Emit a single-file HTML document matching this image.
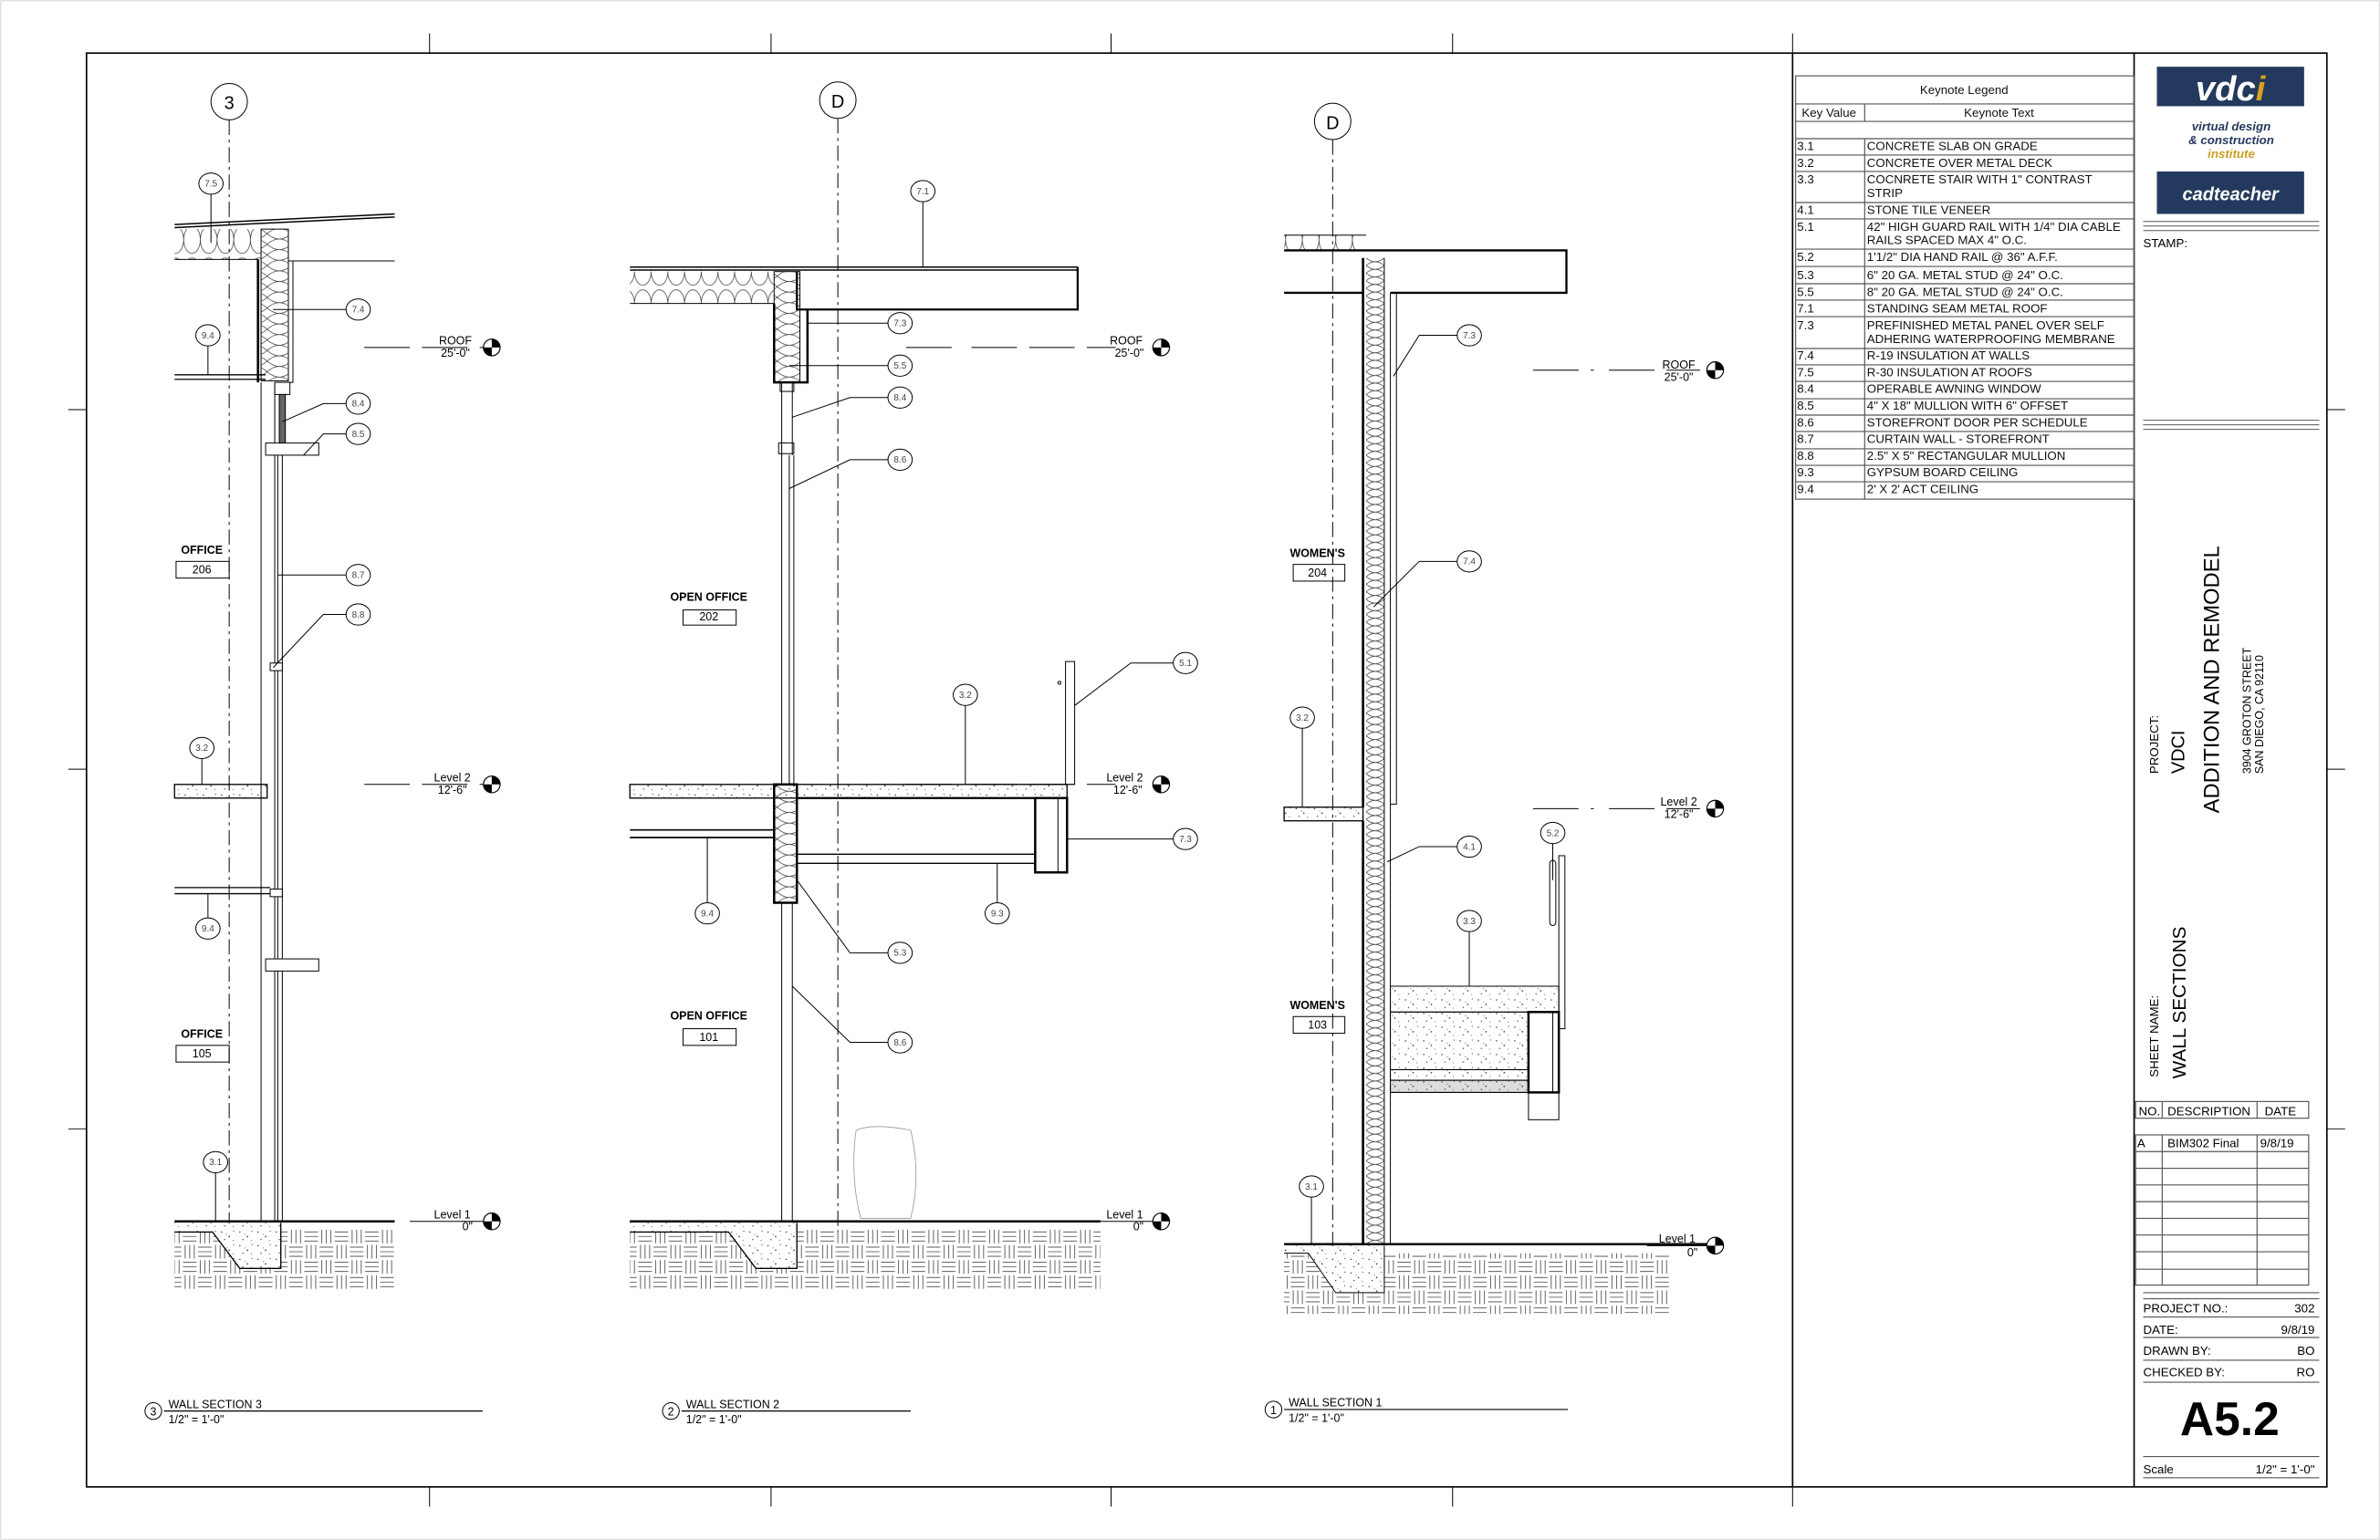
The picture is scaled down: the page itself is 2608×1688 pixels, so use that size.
<!DOCTYPE html>
<html><head><meta charset="utf-8"><style>
html,body{margin:0;padding:0;background:#fff;}
svg{display:block;}
text{font-family:"Liberation Sans",sans-serif;}
</style></head><body>
<svg width="2608" height="1688" viewBox="0 0 1568 1015" preserveAspectRatio="none" xmlns="http://www.w3.org/2000/svg">
<defs>
<pattern id="earth" width="20" height="20" patternUnits="userSpaceOnUse">
<g stroke="#444" stroke-width="0.5">
<path d="M2 0.5V9.5M5 0.5V9.5M8 0.5V9.5"/>
<path d="M10.5 2H19.5M10.5 5H19.5M10.5 8H19.5"/>
<path d="M0.5 12H9.5M0.5 15H9.5M0.5 18H9.5"/>
<path d="M12 10.5V19.5M15 10.5V19.5M18 10.5V19.5"/>
</g></pattern>
<pattern id="conc" width="12" height="9" patternUnits="userSpaceOnUse">
<g fill="#333"><circle cx="2" cy="2" r="0.45"/><circle cx="7" cy="5" r="0.5"/><circle cx="10" cy="1.5" r="0.35"/><circle cx="4" cy="7" r="0.4"/><circle cx="9.5" cy="7.5" r="0.3"/><circle cx="5.5" cy="3.5" r="0.3"/></g></pattern>
<pattern id="ins" width="16" height="7" patternUnits="userSpaceOnUse">
<path d="M0 0Q8 7 16 0M0 7Q8 0 16 7" fill="none" stroke="#333" stroke-width="0.4"/></pattern>
<pattern id="ins2" width="12" height="5" patternUnits="userSpaceOnUse">
<path d="M0 0Q6 5 12 0M0 5Q6 0 12 5" fill="none" stroke="#333" stroke-width="0.4"/></pattern>
<pattern id="insh" width="11" height="21" patternUnits="userSpaceOnUse">
<ellipse cx="5.5" cy="11" rx="5.5" ry="9" fill="none" stroke="#333" stroke-width="0.45"/></pattern>
<g id="lvl"><circle r="5.5" fill="#fff" stroke="#000" stroke-width="0.7"/><path d="M0 0V-5.5A5.5 5.5 0 0 1 5.5 0Z M0 0V5.5A5.5 5.5 0 0 1 -5.5 0Z" fill="#000"/></g>
</defs>

<rect x="0.5" y="0.5" width="1567" height="1014" fill="none" stroke="#ccc" stroke-width="0.5"/>
<rect x="57" y="35" width="1476" height="945" fill="none" stroke="#000" stroke-width="1"/>
<line x1="1181" y1="35" x2="1181" y2="980" stroke="#000" stroke-width="1"/>
<line x1="1406" y1="35" x2="1406" y2="980" stroke="#000" stroke-width="1"/>
<g stroke="#000" stroke-width="0.6">
<path d="M283 22V35M508 22V35M732 22V35M957 22V35M283 980V993M508 980V993M732 980V993M957 980V993M45 270H57M45 507H57M45 744H57M1533 270H1545M1533 507H1545M1533 744H1545M1181 22V35M1181 980V993"/>
</g>

<g stroke="#555" stroke-width="0.7" fill="none">
<rect x="1183" y="50" width="223" height="279"/>
<path d="M1183 68.5H1406M1183 80H1406M1183 91.4H1406M1183 102.2H1406M1183 113H1406M1183 133.5H1406M1183 144.3H1406M1183 164.2H1406M1183 175.6H1406M1183 187H1406M1183 197.8H1406M1183 208.7H1406M1183 229.7H1406M1183 240.5H1406M1183 251.4H1406M1183 262.8H1406M1183 273.6H1406M1183 284.4H1406M1183 295.8H1406M1183 306.7H1406M1183 317.5H1406"/>
<path d="M1228.5 68.5V80M1228.5 91.4V329"/>
</g>
<g font-size="8" fill="#111">
<text x="1294" y="62" text-anchor="middle">Keynote Legend</text>
<text x="1205" y="77" text-anchor="middle">Key Value</text>
<text x="1317" y="77" text-anchor="middle">Keynote Text</text>
<g font-size="8">
<text x="1184" y="99">3.1</text><text x="1230" y="99">CONCRETE SLAB ON GRADE</text>
<text x="1184" y="110">3.2</text><text x="1230" y="110">CONCRETE OVER METAL DECK</text>
<text x="1184" y="121">3.3</text><text x="1230" y="121">COCNRETE STAIR WITH 1" CONTRAST</text><text x="1230" y="130">STRIP</text>
<text x="1184" y="141">4.1</text><text x="1230" y="141">STONE TILE VENEER</text>
<text x="1184" y="152">5.1</text><text x="1230" y="152">42" HIGH GUARD RAIL WITH 1/4" DIA CABLE</text><text x="1230" y="161">RAILS SPACED MAX 4" O.C.</text>
<text x="1184" y="172">5.2</text><text x="1230" y="172">1'1/2" DIA HAND RAIL @ 36" A.F.F.</text>
<text x="1184" y="184">5.3</text><text x="1230" y="184">6" 20 GA. METAL STUD @ 24" O.C.</text>
<text x="1184" y="195">5.5</text><text x="1230" y="195">8" 20 GA. METAL STUD @ 24" O.C.</text>
<text x="1184" y="206">7.1</text><text x="1230" y="206">STANDING SEAM METAL ROOF</text>
<text x="1184" y="217">7.3</text><text x="1230" y="217">PREFINISHED METAL PANEL OVER SELF</text><text x="1230" y="226">ADHERING WATERPROOFING MEMBRANE</text>
<text x="1184" y="237">7.4</text><text x="1230" y="237">R-19 INSULATION AT WALLS</text>
<text x="1184" y="248">7.5</text><text x="1230" y="248">R-30 INSULATION AT ROOFS</text>
<text x="1184" y="259">8.4</text><text x="1230" y="259">OPERABLE AWNING WINDOW</text>
<text x="1184" y="270">8.5</text><text x="1230" y="270">4" X 18" MULLION WITH 6" OFFSET</text>
<text x="1184" y="281">8.6</text><text x="1230" y="281">STOREFRONT DOOR PER SCHEDULE</text>
<text x="1184" y="292">8.7</text><text x="1230" y="292">CURTAIN WALL - STOREFRONT</text>
<text x="1184" y="303">8.8</text><text x="1230" y="303">2.5" X 5" RECTANGULAR MULLION</text>
<text x="1184" y="314">9.3</text><text x="1230" y="314">GYPSUM BOARD CEILING</text>
<text x="1184" y="325">9.4</text><text x="1230" y="325">2' X 2' ACT CEILING</text>
</g></g>

<rect x="1421" y="44" width="97" height="26" fill="#23395d"/>
<text x="1469.5" y="66" text-anchor="middle" font-size="23" font-weight="bold" font-style="italic" fill="#fff">vdc<tspan fill="#d6a21e">i</tspan></text>
<g font-size="8" font-weight="bold" font-style="italic" text-anchor="middle">
<text x="1470" y="86" fill="#23395d">virtual design</text>
<text x="1470" y="95" fill="#23395d">&amp; construction</text>
<text x="1470" y="104" fill="#c9a020">institute</text>
</g>
<rect x="1421" y="113" width="97" height="28" fill="#23395d"/>
<text x="1469.5" y="132" text-anchor="middle" font-size="12" font-weight="bold" font-style="italic" fill="#fff">cadteacher</text>
<g stroke="#555" stroke-width="0.6"><path d="M1412 146H1528M1412 149H1528M1412 152H1528M1412 277H1528M1412 280H1528M1412 283H1528"/></g>
<text x="1412" y="163" font-size="8">STAMP:</text>
<g font-size="8">
<text transform="translate(1422,510) rotate(-90)">PROJECT:</text>
<text transform="translate(1439,510) rotate(-90)" font-size="12">VDCI</text>
<text transform="translate(1462,536) rotate(-90)" font-size="14.3">ADDITION AND REMODEL</text>
<text transform="translate(1483,510) rotate(-90)" font-size="7.5">3904 GROTON STREET</text>
<text transform="translate(1491,510) rotate(-90)" font-size="7.5">SAN DIEGO, CA 92110</text>
<text transform="translate(1422,710) rotate(-90)">SHEET NAME:</text>
<text transform="translate(1440,711) rotate(-90)" font-size="12.5">WALL SECTIONS</text>
</g>
<g stroke="#555" stroke-width="0.7" fill="none">
<rect x="1407" y="726" width="114" height="11"/>
<path d="M1424.5 726V737M1487 726V737"/>
<rect x="1407" y="748" width="114" height="99"/>
<path d="M1407 759H1521M1407 770H1521M1407 781H1521M1407 792H1521M1407 803H1521M1407 814H1521M1407 825H1521M1407 836.5H1521M1424.5 748V847M1487 748V847"/>
<path d="M1412 852H1528M1412 856H1528M1412 868H1528M1412 881.5H1528M1412 896.5H1528M1412 911H1528M1412 960H1528M1412 974H1528"/>
</g>
<g font-size="8">
<text x="1409" y="735">NO.</text><text x="1428" y="735">DESCRIPTION</text><text x="1492" y="735">DATE</text>
<text x="1408" y="756">A</text><text x="1428" y="756">BIM302 Final</text><text x="1489" y="756">9/8/19</text>
<text x="1412" y="865">PROJECT NO.:</text><text x="1525" y="865" text-anchor="end">302</text>
<text x="1412" y="879">DATE:</text><text x="1525" y="879" text-anchor="end">9/8/19</text>
<text x="1412" y="893">DRAWN BY:</text><text x="1525" y="893" text-anchor="end">BO</text>
<text x="1412" y="907">CHECKED BY:</text><text x="1525" y="907" text-anchor="end">RO</text>
<text x="1469" y="946" text-anchor="middle" font-size="31" font-weight="bold">A5.2</text>
<text x="1412" y="971">Scale</text><text x="1525" y="971" text-anchor="end">1/2" = 1'-0"</text>
</g>

<!-- SECTION 3 -->
<g stroke="#000" fill="none" stroke-width="0.6">
<circle cx="151" cy="67" r="12" fill="#fff"/>
<line x1="151" y1="79" x2="151" y2="812" stroke-dasharray="10,3,2,3"/>
<path d="M115 148L260 141M115 150L260 143" stroke-width="0.9"/>
<rect x="115" y="151" width="57" height="20" fill="url(#insh)" stroke="none"/>
<path d="M115 171H170"/>
<rect x="172" y="151" width="18" height="100" fill="url(#ins)"/>
<path d="M170 171V252" stroke-width="1.6"/>
<path d="M190 172H260M193 172V252H190"/>
<path d="M115 247H175M115 250H175" stroke-width="0.8"/>
<path d="M172 252V805M181 252V805M183 300V805M186 300V805"/>
<rect x="181" y="252" width="10" height="8"/>
<rect x="184" y="260" width="4" height="32" fill="#666"/>
<rect x="175" y="292" width="35" height="8" fill="#fff"/>
<rect x="178" y="437" width="8" height="5" fill="#fff"/>
<rect x="178" y="586" width="8" height="5" fill="#fff"/>
<rect x="175" y="632" width="35" height="8" fill="#fff"/>
<rect x="115" y="517" width="61" height="9" fill="url(#conc)" stroke-width="0.8"/>
<path d="M115 585H178M115 589H178" stroke-width="0.8"/>
<rect x="115" y="810" width="145" height="40" fill="url(#earth)" stroke="none"/>
<path d="M115 805H260" stroke-width="1.5"/>
<path d="M115 812H140L158 836H185V806H115Z" fill="#fff" stroke="none"/>
<path d="M115 812H140L158 836H185V806H115Z" fill="url(#conc)" stroke="none"/>
<path d="M115 812H140L158 836H185V806" stroke-width="0.8"/>
<path d="M139 128V160M228 204H180M228 266H213L186 278M228 286H213L200 300M228 379H183M228 405H213L180 440M133 500V517M137 605V589M142 773V805"/>
<path d="M240 229H270M278 229H320M240 517H270M278 517H320" stroke-dasharray="30,8"/>
<path d="M270 805H320"/>
</g>
<g stroke="#000" stroke-width="0.6" fill="#fff"><ellipse cx="139" cy="121" rx="8" ry="7"/><ellipse cx="236" cy="204" rx="8" ry="7"/><ellipse cx="137" cy="221" rx="8" ry="7"/><ellipse cx="236" cy="266" rx="8" ry="7"/><ellipse cx="236" cy="286" rx="8" ry="7"/><ellipse cx="236" cy="379" rx="8" ry="7"/><ellipse cx="236" cy="405" rx="8" ry="7"/><ellipse cx="133" cy="493" rx="8" ry="7"/><ellipse cx="137" cy="612" rx="8" ry="7"/><ellipse cx="142" cy="766" rx="8" ry="7"/></g>
<path d="M137 228V247" stroke="#000" stroke-width="0.6"/>
<g font-size="6" fill="#444" text-anchor="middle">
<text x="139" y="123">7.5</text><text x="236" y="206">7.4</text><text x="137" y="223">9.4</text><text x="236" y="268">8.4</text><text x="236" y="288">8.5</text><text x="236" y="381">8.7</text><text x="236" y="407">8.8</text><text x="133" y="495">3.2</text><text x="137" y="614">9.4</text><text x="142" y="768">3.1</text>
</g>
<text x="151" y="72" font-size="12" text-anchor="middle">3</text>
<use href="#lvl" x="324" y="229"/><use href="#lvl" x="324" y="517"/><use href="#lvl" x="324" y="805"/>
<g font-size="7.5" text-anchor="middle">
<text x="300" y="227">ROOF</text><text x="300" y="235">25'-0"</text>
<text x="298" y="515">Level 2</text><text x="298" y="523">12'-6"</text>
<text x="298" y="803">Level 1</text><text x="308" y="811">0"</text>
<g font-weight="bold"><text x="133" y="365">OFFICE</text><text x="133" y="684">OFFICE</text></g>
<text x="133" y="378">206</text><text x="133" y="697">105</text>
</g>
<g fill="none" stroke="#000" stroke-width="0.6"><rect x="116" y="370" width="35" height="11"/><rect x="116" y="689" width="35" height="11"/></g>

<!-- SECTION 2 -->
<g stroke="#000" fill="none" stroke-width="0.6">
<circle cx="552" cy="66" r="12" fill="#fff"/>
<line x1="552" y1="78" x2="552" y2="812" stroke-dasharray="10,3,2,3"/>
<path d="M415 176H710M415 178H710" stroke-width="0.9"/>
<rect x="415" y="179" width="95" height="21" fill="url(#insh)" stroke="none"/>
<path d="M415 200H510"/>
<path d="M525 179V204H710V176" stroke-width="1.4"/>
<rect x="510" y="179" width="17" height="73" fill="url(#ins)"/>
<path d="M510 200V252H532V204" stroke-width="1.5"/>
<path d="M515 252V517M522 252V300M520 300V517M523 300V517"/>
<rect x="514" y="252" width="9" height="6"/>
<rect x="513" y="292" width="10" height="7"/>
<rect x="415" y="517" width="288" height="9" fill="url(#conc)" stroke-width="0.8"/>
<path d="M525 526H703" stroke-width="1.3"/>
<rect x="510" y="517" width="15" height="78" fill="url(#ins)" stroke-width="1.5"/>
<rect x="682" y="526" width="21" height="49" stroke-width="1.5"/>
<path d="M697 526V575"/>
<path d="M525 563H682M525 569H682" stroke-width="0.8"/>
<path d="M415 547H510M415 552H510" stroke-width="1"/>
<rect x="702" y="436" width="6" height="81"/>
<circle cx="698" cy="450" r="1"/>
<path d="M515 595V805M522 595V805"/>
<rect x="415" y="810" width="310" height="40" fill="url(#earth)" stroke="none"/>
<path d="M415 805H725" stroke-width="1.5"/>
<path d="M415 812H480L498 836H525V806H415Z" fill="#fff" stroke="none"/>
<path d="M415 812H480L498 836H525V806H415Z" fill="url(#conc)" stroke="none"/>
<path d="M415 812H480L498 836H525V806" stroke-width="0.8"/>
<path d="M564 745Q575 740 600 745Q607 775 600 803H567Q560 775 564 745Z" stroke="#999" stroke-width="0.5"/>
<path d="M608 133V176M585 213H532M585 241H520M585 262H560L522 275M585 303H560L520 322M773 437H745L708 465M636 465V517M773 553H703M466 595V552M657 595V569M585 628H560L525 580M585 687H560L522 650"/>
<path d="M597 229H630M640 229H735M597 517H630M640 517H735" stroke-dasharray="30,8"/>
<path d="M725 805H760"/>
</g>
<g stroke="#000" stroke-width="0.6" fill="#fff">
<ellipse cx="608" cy="126" rx="8" ry="7"/><ellipse cx="593" cy="213" rx="8" ry="7"/><ellipse cx="593" cy="241" rx="8" ry="7"/><ellipse cx="593" cy="262" rx="8" ry="7"/><ellipse cx="593" cy="303" rx="8" ry="7"/><ellipse cx="781" cy="437" rx="8" ry="7"/><ellipse cx="636" cy="458" rx="8" ry="7"/><ellipse cx="781" cy="553" rx="8" ry="7"/><ellipse cx="466" cy="602" rx="8" ry="7"/><ellipse cx="657" cy="602" rx="8" ry="7"/><ellipse cx="593" cy="628" rx="8" ry="7"/><ellipse cx="593" cy="687" rx="8" ry="7"/>
</g>
<g font-size="6" fill="#444" text-anchor="middle">
<text x="608" y="128">7.1</text><text x="593" y="215">7.3</text><text x="593" y="243">5.5</text><text x="593" y="264">8.4</text><text x="593" y="305">8.6</text><text x="781" y="439">5.1</text><text x="636" y="460">3.2</text><text x="781" y="555">7.3</text><text x="466" y="604">9.4</text><text x="657" y="604">9.3</text><text x="593" y="630">5.3</text><text x="593" y="689">8.6</text>
</g>
<text x="552" y="71" font-size="12" text-anchor="middle">D</text>
<use href="#lvl" x="765" y="229"/><use href="#lvl" x="765" y="517"/><use href="#lvl" x="765" y="805"/>
<g font-size="7.5" text-anchor="middle">
<text x="742" y="227">ROOF</text><text x="744" y="235">25'-0"</text>
<text x="741" y="515">Level 2</text><text x="743" y="523">12'-6"</text>
<text x="741" y="803">Level 1</text><text x="750" y="811">0"</text>
<g font-weight="bold"><text x="467" y="396">OPEN OFFICE</text><text x="467" y="672">OPEN OFFICE</text></g>
<text x="467" y="409">202</text><text x="467" y="686">101</text>
</g>
<g fill="none" stroke="#000" stroke-width="0.6"><rect x="450" y="402" width="35" height="10"/><rect x="450" y="678" width="35" height="11"/></g>

<!-- SECTION 1 -->
<g stroke="#000" fill="none" stroke-width="0.6">
<circle cx="878" cy="80" r="12" fill="#fff"/>
<line x1="878" y1="92" x2="878" y2="822" stroke-dasharray="10,3,2,3"/>
<rect x="846" y="155" width="52" height="10" fill="url(#insh)" stroke="none"/>
<path d="M846 165H1032V193H916M846 193H898" stroke-width="1.4"/>
<path d="M846 155H900"/>
<rect x="900" y="170" width="12" height="650" fill="url(#ins2)" stroke="none"/>
<path d="M898 170V532M898 541V820" stroke-width="1.6"/>
<path d="M912 170V820M916 193V820M916 193H920V530H916"/>
<rect x="846" y="532" width="52" height="9" fill="url(#conc)" stroke-width="0.8"/>
<rect x="916" y="650" width="111" height="17" fill="url(#conc)"/>
<rect x="916" y="667" width="91" height="38" fill="url(#conc)"/>
<rect x="916" y="705" width="91" height="7" fill="url(#conc)"/>
<rect x="916" y="712" width="91" height="8" fill="#ddd"/>
<rect x="916" y="712" width="91" height="8" fill="url(#conc)"/>
<rect x="1007" y="667" width="20" height="53" stroke-width="1.5"/>
<path d="M1023 667V720"/>
<rect x="1007" y="720" width="20" height="18"/>
<rect x="1021" y="567" width="4" height="43" rx="2"/>
<rect x="1027" y="564" width="4" height="114"/>
<rect x="846" y="826" width="254" height="40" fill="url(#earth)" stroke="none"/>
<path d="M846 820H1135" stroke-width="1.5"/>
<path d="M846 826H862L880 852H912V821H846Z" fill="#fff" stroke="none"/>
<path d="M846 826H862L880 852H912V821H846Z" fill="url(#conc)" stroke="none"/>
<path d="M846 826H862L880 852H912V821"/>
<path d="M960 221H935L918 248M960 370H935L905 400M858 480V532M960 558H935L914 568M1023 556V580M968 614V650M864 789V820"/>
<path d="M1010 244H1050M1060 244H1120M1010 533H1050M1060 533H1120" stroke-dasharray="30,8"/>
<path d="M1085 821H1125"/>
</g>
<g stroke="#000" stroke-width="0.6" fill="#fff">
<ellipse cx="968" cy="221" rx="8" ry="7"/><ellipse cx="968" cy="370" rx="8" ry="7"/><ellipse cx="858" cy="473" rx="8" ry="7"/><ellipse cx="968" cy="558" rx="8" ry="7"/><ellipse cx="1023" cy="549" rx="8" ry="7"/><ellipse cx="968" cy="607" rx="8" ry="7"/><ellipse cx="864" cy="782" rx="8" ry="7"/>
</g>
<g font-size="6" fill="#444" text-anchor="middle">
<text x="968" y="223">7.3</text><text x="968" y="372">7.4</text><text x="858" y="475">3.2</text><text x="968" y="560">4.1</text><text x="1023" y="551">5.2</text><text x="968" y="609">3.3</text><text x="864" y="784">3.1</text>
</g>
<text x="878" y="85" font-size="12" text-anchor="middle">D</text>
<use href="#lvl" x="1130" y="244"/><use href="#lvl" x="1130" y="533"/><use href="#lvl" x="1130" y="821"/>
<g font-size="7.5" text-anchor="middle">
<text x="1106" y="243">ROOF</text><text x="1106" y="251">25'-0"</text>
<text x="1106" y="531">Level 2</text><text x="1106" y="539">12'-6"</text>
<text x="1105" y="819">Level 1</text><text x="1115" y="828">0"</text>
<g font-weight="bold"><text x="868" y="367">WOMEN'S</text><text x="868" y="665">WOMEN'S</text></g>
<text x="868" y="380">204</text><text x="868" y="678">103</text>
</g>
<g fill="none" stroke="#000" stroke-width="0.6"><rect x="852" y="372" width="34" height="11"/><rect x="852" y="670" width="34" height="11"/></g>

<g stroke="#000" stroke-width="0.6" fill="#fff">
<circle cx="101" cy="930" r="5.5"/><circle cx="442" cy="930" r="5.5"/><circle cx="839" cy="929" r="5.5"/>
</g>
<g stroke="#000" stroke-width="0.7"><path d="M108 930H318M449 930H600M846 929H1033"/></g>
<g font-size="7.5">
<text x="101" y="933" text-anchor="middle">3</text><text x="442" y="933" text-anchor="middle">2</text><text x="839" y="932" text-anchor="middle">1</text>
<text x="111" y="928">WALL SECTION 3</text><text x="111" y="938">1/2" = 1'-0"</text>
<text x="452" y="928">WALL SECTION 2</text><text x="452" y="938">1/2" = 1'-0"</text>
<text x="849" y="927">WALL SECTION 1</text><text x="849" y="937">1/2" = 1'-0"</text>
</g>
</svg>
</body></html>
